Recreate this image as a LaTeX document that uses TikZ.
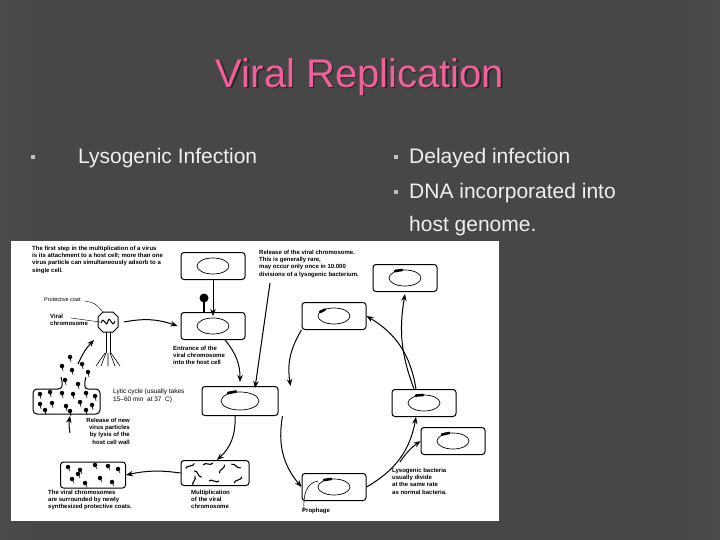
\documentclass[tikz,border=0pt]{standalone}
\usepackage{fontspec}
\setmainfont{Liberation Sans}
\usetikzlibrary{arrows.meta,shapes.geometric}
\definecolor{bgc}{HTML}{474747}
\definecolor{titlec}{HTML}{F0609A}
\definecolor{bodyc}{HTML}{F0F0F0}
\tikzset{
 cell/.style={draw,line width=1pt,rounded corners=3pt,minimum width=64pt,minimum height=27pt,inner sep=0pt},
 nuc/.style={draw,line width=0.7pt,ellipse,minimum width=32pt,minimum height=16pt,inner sep=0pt},
 small/.style={font=\fontsize{6}{7.2}\selectfont\bfseries,align=left,inner sep=0pt},
 arr/.style={-{Stealth[length=7pt,width=5.5pt]},line width=1pt},
 body/.style={font=\fontsize{21}{24}\selectfont,text=bodyc,anchor=base west,inner sep=0pt},
 bul/.style={fill=bodyc!80!black,minimum size=3.5pt,inner sep=0pt},
 part/.style={fill=black,circle,inner sep=0pt,minimum size=4.5pt},
 prophmark/.style={line width=2.6pt,line cap=round}
}
\begin{document}
\begin{tikzpicture}[x=1pt,y=-1pt]
\useasboundingbox (0,0) rectangle (720,540);
\fill[bgc] (0,0) rectangle (720,540);
\shade[left color=black!70,right color=bgc,opacity=.6] (0,0) rectangle (40,540);
\shade[left color=bgc,right color=black!70,opacity=.6] (680,0) rectangle (720,540);
% title
\node[font=\fontsize{40}{44}\selectfont,text=black!85] at (361.5,78.5) {Viral Replication};
\node (title) [font=\fontsize{40}{44}\selectfont,text=titlec] at (360,77) {Viral Replication};
% bullets
\node[bul] (b1) at (33,157) {};
\node[body] (t1) at (78,164) {Lysogenic Infection};
\node[bul] (b2) at (396,157) {};
\node[body] (t2) at (409,164) {Delayed infection};
\node[bul] (b3) at (396,192) {};
\node[body] (t3) at (409,199) {DNA incorporated into};
\node[body] (t4) at (409,232) {host genome.};
% image
\fill[white] (11,241) rectangle (499,521);
\node[small,anchor=north west] (txt1) at (32,246) {The first step in the multiplication of a virus\\is its attachment to a host cell; more than one\\virus particle can simultaneously adsorb to a\\single cell.};
\node[cell] (A) at (213,266) {}; \node[nuc] (nA) at (A) {};
\node[cell] (B) at (213,326) {}; \node[nuc] (nB) at (B) {};
\draw[arr,line width=0.7pt] (A.south) -- ([yshift=-4pt]B.north);
\fill (204,298) circle (4.5pt); \draw[line width=2pt] (204,301) -- (204,313);
% phage
\node[small,font=\fontsize{5.5}{6.5}\selectfont,anchor=west] (pc) at (44,300) {Protective coat};
\node[small,font=\fontsize{6}{7}\selectfont\bfseries,anchor=north west] (vc) at (50,314) {Viral\\chromosome};
\draw[line width=1pt] (98,317) -- (103,312) -- (113,312) -- (118,317) -- (118,327) -- (113,332) -- (103,332) -- (98,327) -- cycle;
\draw[line width=1pt] (101,323) .. controls (104,314) and (106,330) .. (108,321) .. controls (110,314) and (112,330) .. (115,321);
\draw[line width=1pt] (106,332) -- (106,353) (110,332) -- (110,353);
\draw[semithick] (105,353) -- (96,366) (106,353) -- (101,366) (108,353) -- (108,366) (110,353) -- (115,366) (111,353) -- (120,366);
\draw (85,301) .. controls (95,303) .. (103,312);
\draw (71,318) -- (100,322);
\coordinate (phR) at (124,322);
\draw[arr] (phR) to[bend left=15] ([xshift=-3pt]B.west);
\node[small,anchor=north west] (ent) at (173,346) {Entrance of the\\viral chromosome\\into the host cell};
% cell C
\node[cell,minimum width=76pt,minimum height=29pt] (C) at (240,401) {}; \node[nuc,minimum width=38pt,minimum height=18pt] (nC) at (C) {};
\draw[prophmark] ([shift={(-12,-8)}]nC.center) -- ([shift={(-4,-9.5)}]nC.center);
\draw[arr] ([xshift=12pt]B.south) to[bend left=20] ([yshift=4pt]C.north);
\node[small,anchor=north west,font=\fontsize{6.5}{8}\selectfont] (lyt) at (113,389) {Lytic cycle (usually takes\\15--60 min\ \ at 37\ \ C)};
% lysed cell
\draw[line width=1pt,rounded corners=4pt] (58,389) -- (33,389) -- (33,414) -- (100,414) -- (100,389) -- (88,389);
\draw[line width=1pt] (88,389) .. controls (84,389) and (84,384) .. (86,377);
\draw[line width=1pt] (58,389) .. controls (63,389) and (63,384) .. (61,377);
\foreach \x/\y in {40/394,50/392,62/393,73/394,86/393,95/396,40/404,52/403,66/406,80/402,92/405,45/410,70/411,86/410,65/380,78/384,72/370,82/364,70/357,88/372,62/366} {\node[part] at (\x,\y) {}; \draw[semithick] (\x,\y) -- ++(1,5);}
\node[small,align=right,anchor=north east] (rel) at (130,418) {Release of new\\virus particles\\by lysis of the\\host cell wall};
\draw[arr] (70,433) to[bend left=10] (70,416);
\draw[arr] (78,364) to[bend left=10] (94,340);
% cell D
\node[cell,minimum width=65pt,minimum height=26pt] (D) at (93,475) {};
\foreach \x/\y in {68/467,80/470,95/465,108/466,118/469,72/479,85/483,100/478,112/482,78/474} {\node[part] at (\x,\y) {}; \draw[semithick] (\x,\y) -- ++(2,4);}
\node[small,anchor=north west] (txtD) at (48,490) {The viral chromosomes\\are surrounded by newly\\synthesized protective coats.};
% cell E
\node[cell,minimum width=68pt,minimum height=25pt] (E) at (215,473) {};
\foreach \x/\y/\a in {190/466/30,198/474/-40,208/464/10,222/469/60,236/466/-20,194/481/80,214/481/0,238/480/40} {\draw[line width=1.1pt,rotate around={\a:(\x,\y)}] (\x-5,\y) .. controls (\x-2,\y-3) and (\x+2,\y+3) .. (\x+5,\y);}
\node[small,anchor=north west] (txtE) at (191,490) {Multiplication\\of the viral\\chromosome};
\draw[arr] ([xshift=-5pt]C.south) to[bend left=25] ([xshift=2pt]E.north);
\draw[arr] (E.west) to[bend right=10] (D.east);
% right side
\node[small,anchor=north west] (txtR) at (259,250) {Release of the viral chromosome.\\This is generally rare,\\may occur only once in 10.000\\divisions of a lysogenic bacterium.};
\draw[arr] (270,283) -- ([xshift=15pt,yshift=-2pt]C.north);
\node[cell] (F) at (405,278) {}; \node[nuc] (nF) at (F) {}; \draw[prophmark] ([shift={(-10,-7)}]nF.center) -- ([shift={(-3,-8)}]nF.center);
\node[cell] (G) at (334,316) {}; \node[nuc] (nG) at (G) {}; \draw[prophmark] ([shift={(-14,-4)}]nG.center) -- ([shift={(-9,-6.5)}]nG.center);
\node[cell] (H) at (424,403) {}; \node[nuc] (nH) at (H) {}; \draw[prophmark] ([shift={(-8,-7.5)}]nH.center) -- ([shift={(-1,-8)}]nH.center);
\node[cell] (I) at (453,441) {}; \node[nuc] (nI) at (I) {}; \draw[prophmark] ([shift={(-11,-6.5)}]nI.center) -- ([shift={(-4,-8)}]nI.center);
\node[cell] (J) at (334,487) {}; \node[nuc] (nJ) at (J) {}; \draw[prophmark] ([shift={(-10,-7)}]nJ.center) -- ([shift={(-3,-8)}]nJ.center);
\draw[arr] (G.south west) to[bend right=20] ([xshift=12pt]C.north east);
\draw[arr] ([xshift=4pt]C.south east) to[bend right=25] (J.west);
\draw[arr] (J.east) to[bend right=25] ([xshift=-8pt]H.south);
\coordinate (br) at (400,462);
\draw[arr] (br) to[bend left=10] (I.west);
\draw[arr] ([xshift=-8pt]H.north) to[bend right=25] (G.east);
\draw[arr] ([xshift=-10pt]H.north) to[bend left=15] ([yshift=-2pt]F.south);
\draw[semithick] (304,511) .. controls (303,495) and (306,483) .. (318,481);
\node[small,anchor=north west] (pro) at (302,508) {Prophage};
\node[small,anchor=north west] (lys) at (392,468) {Lysogenic bacteria\\usually divide\\at the same rate\\as normal bacteria.};
\end{tikzpicture}
\end{document}
